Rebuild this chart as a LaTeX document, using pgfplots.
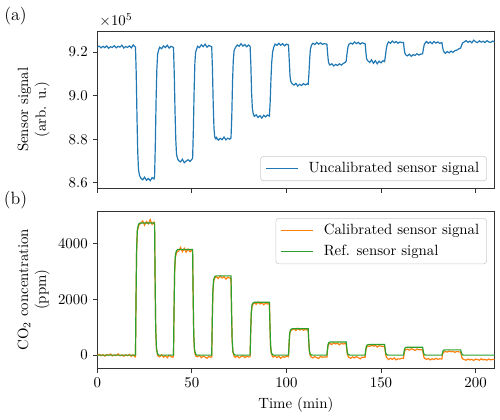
\documentclass[border=0pt]{standalone}
\usepackage{pgfplots}
\pgfplotsset{compat=1.18}
\definecolor{tabblue}{HTML}{1F77B4}
\definecolor{taborange}{HTML}{FF7F0E}
\definecolor{tabgreen}{HTML}{2CA02C}
\definecolor{spine}{HTML}{333333}
\pgfplotsset{
  myaxis/.style={
    scale only axis, width=267.5pt, height=105.9pt,
    xmin=0, xmax=210,
    xtick={0,50,100,150,200},
    axis line style={draw=spine, line width=0.6pt},
    tick style={draw=spine, line width=0.6pt},
    major tick length=2.9pt,
    tick align=outside,
    xtick pos=bottom, ytick pos=left,
    ylabel style={at={(axis description cs:-0.1193,0.5)}, anchor=south, inner sep=0pt, align=center},
    legend cell align=left,
    legend style={draw=black!20, rounded corners=2pt, fill=white, font=\normalsize,
      inner xsep=3pt, inner ysep=2pt, row sep=1.5pt,
      /tikz/every odd column/.append style={column sep=5pt}},
    legend image code/.code={\draw[#1] (0pt,0pt) -- (21.5pt,0pt);},
  }
}
\begin{document}
\begin{tikzpicture}
\useasboundingbox (-65.5pt,-155.4pt) rectangle (271.2pt,126.8pt);
\begin{axis}[myaxis,
  at={(0pt,0pt)}, anchor=south west,
  ymin=8.575, ymax=9.296,
  ytick={8.6,8.8,9.0,9.2},
  yticklabel style={/pgf/number format/.cd, fixed, fixed zerofill, precision=1},
  xticklabels={},
  ylabel={Sensor signal\\(arb. u.)},
  legend style={at={(rel axis cs:0.981,0.046)}, anchor=south east},
]
\addplot[tabblue, line width=0.8pt] coordinates {
(0,9.222)(1,9.227)(2,9.219)(3,9.226)(4,9.220)(5,9.228)(6,9.217)(7,9.224)(8,9.221)(9,9.229)
(10,9.219)(11,9.226)(12,9.222)(13,9.231)(14,9.218)(15,9.225)(16,9.221)(17,9.228)(18,9.219)(19,9.232)
(20,9.224)(20.2,9.222)(20.6,9.10)(21.0,8.90)(21.4,8.74)(21.8,8.66)(22.3,8.635)(23,8.622)(24,8.614)(25,8.626)
(26,8.612)(27,8.620)(28,8.610)(29,8.624)(30,8.618)(30.3,8.630)(30.7,8.78)(31.1,8.98)(31.5,9.12)(31.9,9.19)
(32.5,9.210)(33,9.222)(34,9.215)(35,9.228)(36,9.220)(37,9.231)(38,9.218)(39,9.226)(40,9.222)(40.3,9.220)
(40.7,9.10)(41.1,8.93)(41.5,8.80)(41.9,8.73)(42.5,8.710)(43,8.702)(44,8.696)(45,8.708)(46,8.692)(47,8.700)
(48,8.706)(49,8.698)(50,8.708)(50.4,8.712)(50.8,8.84)(51.2,9.02)(51.6,9.15)(52,9.20)(52.6,9.215)(53,9.226)
(54,9.220)(55,9.233)(56,9.224)(57,9.236)(58,9.222)(59,9.230)(60,9.226)(60.5,9.224)(60.9,9.12)(61.3,8.96)
(61.7,8.85)(62.1,8.81)(62.7,8.802)(63,8.808)(64,8.796)(65,8.804)(66,8.798)(67,8.810)(68,8.797)(69,8.805)
(70,8.800)(70.7,8.806)(71.1,8.90)(71.5,9.06)(71.9,9.16)(72.3,9.205)(73,9.220)(74,9.232)(75,9.226)(76,9.238)
(77,9.227)(78,9.234)(79,9.224)(80,9.232)(80.8,9.226)(81.2,9.14)(81.6,9.01)(82,8.94)(82.5,8.915)(83,8.905)
(84,8.912)(85,8.900)(86,8.908)(87,8.897)(88,8.910)(89,8.902)(90,8.911)(91.0,8.906)(91.4,8.97)(91.8,9.07)
(92.2,9.15)(92.7,9.20)(93.3,9.222)(94,9.236)(95,9.230)(96,9.240)(97,9.231)(98,9.238)(99,9.228)(100,9.236)
(101.1,9.232)(101.5,9.16)(101.9,9.09)(102.3,9.065)(103,9.055)(104,9.048)(105,9.056)(106,9.044)(107,9.052)(108,9.046)
(109,9.055)(110,9.049)(111,9.054)(111.5,9.052)(111.9,9.10)(112.3,9.17)(112.7,9.215)(113.3,9.232)(114,9.240)(115,9.234)
(116,9.244)(117,9.236)(118,9.242)(119,9.235)(120,9.238)(121.4,9.236)(121.8,9.19)(122.2,9.155)(122.6,9.145)(123,9.140)
(124,9.146)(125,9.136)(126,9.143)(127,9.138)(128,9.146)(129,9.140)(130,9.147)(131,9.152)(131.6,9.158)(132,9.19)
(132.5,9.222)(133,9.235)(134,9.241)(135,9.236)(136,9.246)(137,9.238)(138,9.244)(139,9.236)(140,9.242)(141.6,9.238)
(142,9.20)(142.4,9.168)(143,9.160)(144,9.152)(145,9.164)(146,9.148)(147,9.160)(148,9.146)(149,9.158)(150,9.150)
(151,9.160)(151.9,9.156)(152.3,9.18)(152.8,9.215)(153.4,9.238)(154,9.246)(155,9.240)(156,9.250)(157,9.242)(158,9.248)
(159,9.240)(160,9.246)(161,9.243)(161.9,9.244)(162.3,9.21)(162.7,9.192)(163.2,9.186)(164,9.182)(165,9.190)(166,9.180)
(167,9.188)(168,9.184)(169,9.192)(170,9.186)(171,9.190)(172.0,9.192)(172.4,9.215)(172.9,9.235)(173.5,9.243)(174,9.248)
(175,9.240)(176,9.246)(177,9.238)(178,9.248)(179,9.241)(180,9.246)(181,9.240)(182.2,9.243)(182.6,9.22)(183,9.205)
(183.5,9.198)(184,9.194)(185,9.202)(186,9.196)(187,9.204)(188,9.198)(189,9.206)(190,9.208)(191,9.214)(192.1,9.218)
(192.6,9.232)(193.2,9.242)(194,9.246)(195,9.252)(196,9.244)(197,9.250)(198,9.242)(199,9.254)(200,9.247)(201,9.243)
(202,9.251)(203,9.245)(204,9.249)(205,9.243)(206,9.252)(207,9.246)(208,9.244)(209,9.250)(210,9.246)
};
\addlegendentry{Uncalibrated sensor signal}
\end{axis}
\node[anchor=base west, inner sep=0pt] at (1.3pt,109.3pt) {$\times10^{5}$};
\node[font=\large] at (-55.1pt,115.8pt) {(a)};
\node[font=\large] at (-55.1pt,-7.9pt) {(b)};
\begin{axis}[myaxis,
  at={(0pt,-15.3pt)}, anchor=north west,
  ymin=-470, ymax=5155,
  ytick={0,2000,4000},
  scaled y ticks=false,
  yticklabel style={/pgf/number format/.cd, 1000 sep={}},
  xlabel={Time (min)},
  ylabel={CO$_2$ concentration\\(ppm)},
  legend style={at={(rel axis cs:0.981,0.955)}, anchor=north east},
]
\addplot[taborange, line width=0.8pt] coordinates {
(0,-10)(1,30)(2,-20)(3,15)(4,-35)(5,20)(6,-5)(7,40)(8,-30)(9,10)
(10,-15)(11,45)(12,-25)(13,5)(14,-40)(15,15)(16,-20)(17,25)(18,-45)(19,10)
(20,-60)(20.2,-20)(20.5,2000)(20.8,3700)(21.2,4450)(22,4650)(23,4720)(24,4800)(25,4650)(26,4780)
(27,4700)(28,4850)(29,4680)(30,4760)(30.3,4650)(30.6,2500)(30.9,900)(31.3,200)(32,-20)(33,-60)
(34,10)(35,-70)(36,-20)(37,-90)(38,0)(39,-50)(40,-80)(40.3,-30)(40.6,1650)(40.9,2950)
(41.3,3500)(42,3680)(43,3720)(44,3850)(45,3700)(46,3820)(47,3680)(48,3790)(49,3700)(50,3760)
(50.4,3700)(50.7,2000)(51.0,700)(51.4,150)(52,-30)(53,-60)(54,-10)(55,-90)(56,-30)(57,-70)
(58,-110)(59,-40)(60,-80)(60.5,-60)(60.8,1200)(61.1,2200)(61.5,2620)(62,2760)(63,2800)(64,2740)
(65,2830)(66,2760)(67,2810)(68,2720)(69,2790)(70,2760)(70.7,2740)(71.0,1500)(71.3,520)(71.7,110)
(72.3,-30)(73,-80)(74,-30)(75,-100)(76,-50)(77,-20)(78,-90)(79,-40)(80,-70)(80.8,-50)
(81.1,800)(81.4,1450)(81.8,1740)(82.5,1840)(83,1880)(84,1820)(85,1900)(86,1830)(87,1870)(88,1800)
(89,1860)(90,1830)(91.0,1840)(91.3,1000)(91.6,330)(92,60)(92.6,-40)(93,-70)(94,-20)(95,-90)
(96,-40)(97,-110)(98,-50)(99,-80)(100,-30)(101.1,-60)(101.4,400)(101.7,720)(102.1,860)(103,910)
(104,940)(105,880)(106,960)(107,900)(108,930)(109,890)(110,920)(111,900)(111.5,910)(111.8,480)
(112.1,150)(112.5,10)(113,-60)(114,-100)(115,-50)(116,-90)(117,-120)(118,-40)(119,-80)(120,-60)
(121.4,-70)(121.7,180)(122,330)(122.4,390)(123,420)(124,380)(125,440)(126,400)(127,430)(128,370)
(129,420)(130,400)(131,410)(131.6,400)(131.9,200)(132.2,40)(132.6,-40)(133,-80)(134,-110)(135,-60)
(136,-100)(137,-50)(138,-90)(139,-130)(140,-70)(141.6,-80)(141.9,140)(142.2,250)(142.6,300)(143,330)
(144,310)(145,360)(146,320)(147,350)(148,290)(149,340)(150,320)(151,310)(151.9,320)(152.2,160)
(152.5,10)(152.9,-80)(153.5,-120)(154,-160)(155,-110)(156,-150)(157,-100)(158,-170)(159,-130)(160,-140)
(161,-110)(161.9,-120)(162.2,60)(162.5,150)(162.9,190)(164,210)(165,180)(166,230)(167,200)(168,170)
(169,220)(170,190)(171,200)(172,180)(172.3,60)(172.6,-60)(173,-110)(174,-150)(175,-120)(176,-170)
(177,-130)(178,-160)(179,-110)(180,-150)(181,-130)(182.2,-140)(182.5,30)(182.8,80)(183.2,110)(184,130)
(185,110)(186,150)(187,120)(188,140)(189,100)(190,130)(191,120)(192.1,110)(192.4,10)(192.7,-80)
(193.1,-130)(194,-160)(195,-180)(196,-140)(197,-170)(198,-150)(199,-190)(200,-140)(201,-160)(202,-180)
(203,-130)(204,-170)(205,-150)(206,-180)(207,-140)(208,-170)(209,-150)(210,-160)
};
\addlegendentry{Calibrated sensor signal}
\addplot[tabgreen, line width=0.8pt] coordinates {
(0,0)
(20.2,0)(20.5,2126)(20.8,3780)(21.2,4490)(21.8,4680)(22.5,4725)(30.3,4725)(30.6,2600)(30.9,945)(31.3,236)(31.9,47)(32.6,0)
(40.3,0)(40.6,1701)(40.9,3024)(41.3,3591)(41.9,3742)(42.6,3780)(50.4,3780)(50.7,2079)(51.0,756)(51.4,189)(52.0,38)(52.7,0)
(60.5,0)(60.8,1276)(61.1,2268)(61.5,2693)(62.1,2807)(62.8,2835)(70.7,2835)(71.0,1559)(71.3,567)(71.7,142)(72.3,28)(73.0,0)
(80.8,0)(81.1,850)(81.4,1512)(81.8,1796)(82.4,1871)(83.1,1890)(91.0,1890)(91.3,1040)(91.6,378)(92.0,95)(92.6,19)(93.3,0)
(101.1,0)(101.4,425)(101.7,756)(102.1,898)(102.7,936)(103.4,945)(111.5,945)(111.8,520)(112.1,189)(112.5,47)(113.1,9)(113.8,0)
(121.4,0)(121.7,212)(122.0,378)(122.4,448)(123.0,467)(123.7,472)(131.6,472)(131.9,260)(132.2,94)(132.6,24)(133.2,5)(133.9,0)
(141.6,0)(141.9,170)(142.2,302)(142.6,359)(143.2,374)(143.9,378)(151.9,378)(152.2,208)(152.5,76)(152.9,19)(153.5,4)(154.2,0)
(161.9,0)(162.2,127)(162.5,226)(162.9,269)(163.5,280)(164.2,283)(172.0,283)(172.3,156)(172.6,57)(173.0,14)(173.6,3)(174.3,0)
(182.2,0)(182.5,85)(182.8,151)(183.2,180)(183.8,187)(184.5,189)(192.1,189)(192.4,104)(192.7,38)(193.1,9)(193.7,2)(194.4,0)
(210,0)
};
\addlegendentry{Ref. sensor signal}
\end{axis}
\end{tikzpicture}
\end{document}
